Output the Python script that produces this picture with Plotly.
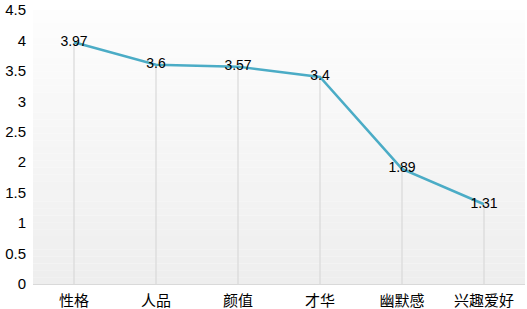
import plotly.graph_objects as go

categories = ["性格", "人品", "颜值", "才华", "幽默感", "兴趣爱好"]
values = [3.97, 3.6, 3.57, 3.4, 1.89, 1.31]
value_labels = ["3.97", "3.6", "3.57", "3.4", "1.89", "1.31"]
y_ticks = [0, 0.5, 1, 1.5, 2, 2.5, 3, 3.5, 4, 4.5]
y_tick_labels = ["0", "0.5", "1", "1.5", "2", "2.5", "3", "3.5", "4", "4.5"]

fig = go.Figure()

# drop lines from each point to the axis
fig.add_trace(go.Scatter(
    x=categories, y=values, mode="markers",
    marker=dict(size=1, color="rgba(0,0,0,0)"),
    error_y=dict(type="data", symmetric=False, array=[0] * len(values),
                 arrayminus=values, color="#d9d9d9", thickness=1.2, width=0),
    hoverinfo="skip", showlegend=False,
))

fig.add_trace(go.Scatter(
    x=categories, y=values, mode="lines+text",
    line=dict(color="#4bacc6", width=2.5),
    text=value_labels, textposition="middle center",
    textfont=dict(family="Arial, Liberation Sans", size=14, color="#000000"),
    showlegend=False,
))

# vertical gradient background (white -> light gray)
n = 40
for i in range(n):
    t = i / (n - 1)
    c = int(round(253 - (253 - 238) * t))
    fig.add_shape(type="rect", xref="x domain", yref="y domain",
                  x0=0, x1=1, y0=1 - (i + 1) / n, y1=1 - i / n,
                  fillcolor=f"rgb({c},{c},{c})", line=dict(width=0), layer="below")

fig.update_layout(
    width=527, height=309,
    margin=dict(l=33, r=2, t=10, b=25),
    paper_bgcolor="white", plot_bgcolor="white",
    font=dict(family="Arial, Liberation Sans, Noto Sans CJK SC", size=14, color="#000000"),
    xaxis=dict(type="category", range=[-0.5, 5.5], showgrid=False,
               showline=True, linecolor="#d9d9d9", linewidth=1, ticks="",
               ticklabelstandoff=3, automargin=False,
               tickfont=dict(family="Noto Sans CJK SC", size=15)),
    yaxis=dict(range=[0, 4.5], tickvals=y_ticks, ticktext=y_tick_labels,
               showgrid=False, zeroline=False, showline=False, ticks="",
               ticklabelstandoff=6, automargin=False,
               tickfont=dict(family="Arial, Liberation Sans", size=15)),
)

fig.write_html("out.html", config={"displayModeBar": False},
               post_script="document.body.style.margin='0';document.body.style.overflow='hidden';")
